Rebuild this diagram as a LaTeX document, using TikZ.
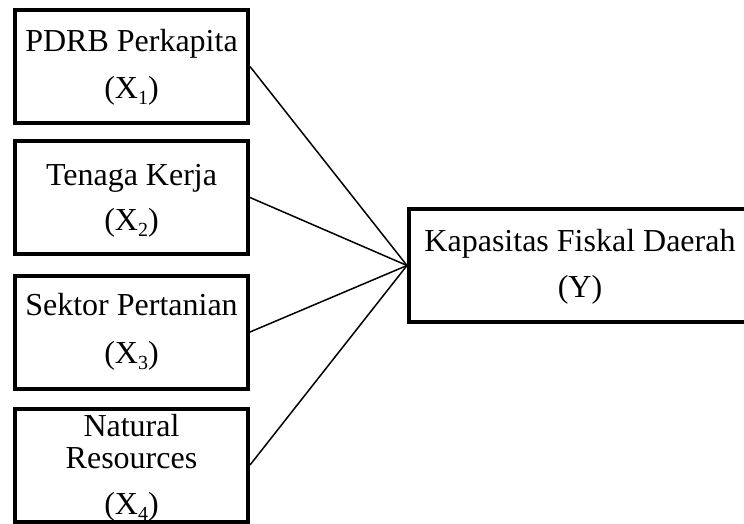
\documentclass[tikz,border=0pt]{standalone}
\usepackage{fontspec}
\setmainfont{Liberation Serif}
\newcommand{\subidx}[1]{\raisebox{-3pt}{\fontsize{10}{10}\selectfont #1}}
\tikzset{
    varbox/.style={draw, line width=2pt, minimum width=116.5pt, minimum height=56.5pt,
        align=center, inner sep=0pt, font=\fontsize{16}{18}\selectfont},
    garis/.style={line width=0.75pt}
}
\begin{document}
\begin{tikzpicture}[x=0.5pt, y=-0.5pt]
    \useasboundingbox (0,0) rectangle (744,524);
    \clip (0,0) rectangle (744,524);

    % variabel bebas
    \node[varbox] (x1) at (131.5, 66.5) {\rule{0pt}{12pt}PDRB Perkapita\\[5.5pt](X\subidx{1})};
    \node[varbox] (x2) at (131.5, 197.5) {\rule{0pt}{13.5pt}Tenaga Kerja\\[4.5pt](X\subidx{2})};
    \node[varbox] (x3) at (131.5, 332) {Sektor Pertanian\\[6pt](X\subidx{3})};
    \node[varbox] (x4) at (131.5, 465) {\rule{0pt}{14pt}Natural\\[-2pt]Resources\\[5pt](X\subidx{4})};

    % variabel terikat
    \node[varbox, minimum width=171pt] (y) at (580, 265.5) {\rule{0pt}{12pt}Kapasitas Fiskal Daerah\\[5pt](Y)};

    % garis hubungan
    \foreach \i in {1,...,4}
        \draw[garis] (x\i.east) -- (y.west);
\end{tikzpicture}
\end{document}
